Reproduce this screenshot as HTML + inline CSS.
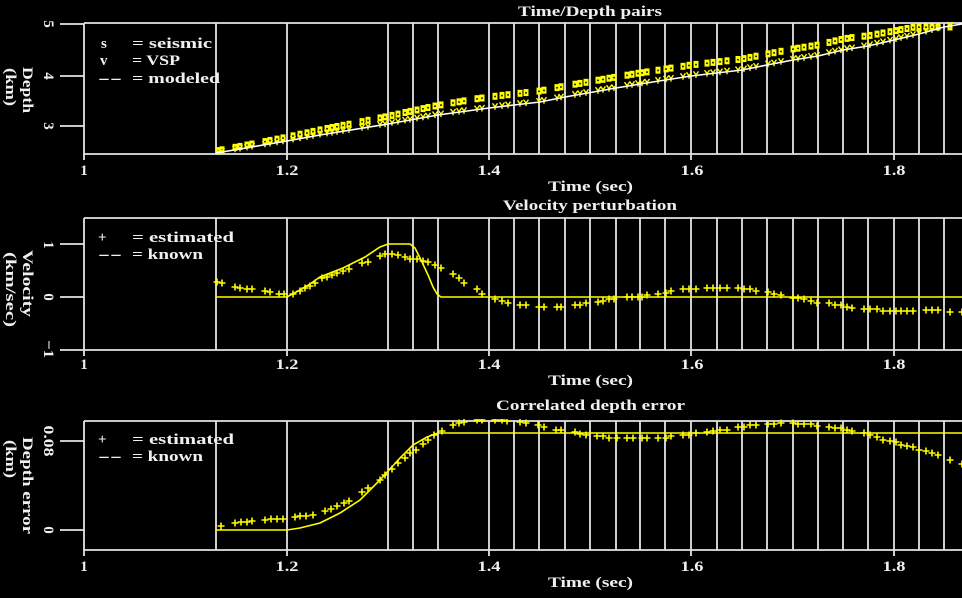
<!DOCTYPE html>
<html><head><meta charset="utf-8"><style>
html,body{margin:0;padding:0;background:#000;}
svg{display:block;}
text{font-family:"Liberation Serif",serif;fill:#f0f0f0;font-size:15px;font-weight:bold;}
.t{font-size:15px;}
</style></head><body>
<svg width="962" height="598" viewBox="0 0 962 598" xmlns="http://www.w3.org/2000/svg">
<defs>
<path id="p" d="M-3.5 0h7M0 -3.5v7" stroke="#ff0" stroke-width="1.6" fill="none"/>
<g id="s"><rect x="-2.5" y="-3.5" width="5" height="7" fill="#ff0"/><rect x="-0.8" y="-0.6" width="1.6" height="1.6" fill="#000"/></g>
<path id="v" d="M-2.5 -3L0 0.5L2.5 -3M0 0.5v3" stroke="#ff0" stroke-width="1.4" fill="none"/>
<clipPath id="c1"><rect x="84" y="21" width="880" height="134"/></clipPath>
<clipPath id="c3"><rect x="84" y="419" width="880" height="132"/></clipPath>
</defs>
<rect width="962" height="598" fill="#000"/>

<!-- ============ PANEL 1 ============ -->
<g stroke="#e4e4e4" stroke-width="1.8" fill="none">
<path d="M84 23H962M84 154H962M84 23V160M60 24H84M60 76H84M60 126H84M287 154v6M489 154v6M691 154v6M894 154v6"/>
<path d="M216 23V154M287 23V154M388 23V154M413 23V154M438 23V154M489 23V154M514 23V154M539 23V154M565 23V154M590 23V154M616 23V154M640 23V154M665 23V154M691 23V154M717 23V154M742 23V154M767 23V154M793 23V154M818 23V154M843 23V154M868 23V154M894 23V154M919 23V154M944 23V154"/>
</g>
<text x="518" y="16" textLength="144" lengthAdjust="spacingAndGlyphs">Time/Depth pairs</text>
<text x="101" y="48">s</text>
<text x="132" y="48" textLength="80" lengthAdjust="spacingAndGlyphs">= seismic</text>
<text x="100" y="65">v</text>
<text x="132" y="65" textLength="48" lengthAdjust="spacingAndGlyphs">= VSP</text>
<text x="98" y="83" textLength="24" lengthAdjust="spacingAndGlyphs">--</text>
<text x="132" y="83" textLength="88" lengthAdjust="spacingAndGlyphs">= modeled</text>
<g class="t" text-anchor="middle">
<text class="t" x="84" y="175">1</text>
<text class="t" x="287" y="175" textLength="23" lengthAdjust="spacingAndGlyphs">1.2</text>
<text class="t" x="489" y="175" textLength="23" lengthAdjust="spacingAndGlyphs">1.4</text>
<text class="t" x="692" y="175" textLength="23" lengthAdjust="spacingAndGlyphs">1.6</text>
<text class="t" x="894" y="175" textLength="23" lengthAdjust="spacingAndGlyphs">1.8</text>
</g>
<text x="548" y="191" textLength="85" lengthAdjust="spacingAndGlyphs">Time (sec)</text>
<text class="t" transform="translate(44,24) rotate(90)" text-anchor="middle">5</text>
<text class="t" transform="translate(44,76) rotate(90)" text-anchor="middle">4</text>
<text class="t" transform="translate(44,126) rotate(90)" text-anchor="middle">3</text>
<text transform="translate(23,67) rotate(90)" textLength="46" lengthAdjust="spacingAndGlyphs">Depth</text>
<text transform="translate(6,68) rotate(90)" textLength="38" lengthAdjust="spacingAndGlyphs">(km)</text>

<g clip-path="url(#c1)">
<g>
<use href="#s" x="218" y="150.6"/><use href="#s" x="222" y="149.8"/><use href="#s" x="235" y="147.3"/><use href="#s" x="240" y="146.4"/><use href="#s" x="247" y="145"/><use href="#s" x="252" y="144"/><use href="#s" x="265" y="141.5"/><use href="#s" x="270" y="140.4"/><use href="#s" x="277" y="139.1"/><use href="#s" x="283" y="137.9"/><use href="#s" x="293" y="135.8"/><use href="#s" x="300" y="134.2"/><use href="#s" x="307" y="132.8"/><use href="#s" x="313" y="131.4"/><use href="#s" x="320" y="129.9"/><use href="#s" x="327" y="128.5"/><use href="#s" x="332" y="127.5"/><use href="#s" x="337" y="126.5"/><use href="#s" x="343" y="125.3"/><use href="#s" x="349" y="124.2"/><use href="#s" x="362" y="121.6"/><use href="#s" x="368" y="120.3"/><use href="#s" x="380" y="117.9"/><use href="#s" x="385" y="116.9"/><use href="#s" x="392" y="115.4"/><use href="#s" x="398" y="114.1"/><use href="#s" x="405" y="112.5"/><use href="#s" x="410" y="111.4"/><use href="#s" x="417" y="110"/><use href="#s" x="423" y="108.6"/><use href="#s" x="428" y="107.5"/><use href="#s" x="435" y="106"/><use href="#s" x="441" y="104.9"/><use href="#s" x="453" y="102.8"/><use href="#s" x="459" y="101.8"/><use href="#s" x="464" y="100.9"/><use href="#s" x="477" y="98.7"/><use href="#s" x="482" y="98"/><use href="#s" x="495" y="96.3"/><use href="#s" x="502" y="95.4"/><use href="#s" x="508" y="94.7"/><use href="#s" x="520" y="93.3"/><use href="#s" x="526" y="92.6"/><use href="#s" x="539" y="91.1"/><use href="#s" x="544" y="90.2"/><use href="#s" x="557" y="87.6"/><use href="#s" x="561" y="86.8"/><use href="#s" x="575" y="84.2"/><use href="#s" x="580" y="83.4"/><use href="#s" x="586" y="82.3"/><use href="#s" x="598" y="80.2"/><use href="#s" x="603" y="79.3"/><use href="#s" x="609" y="78.2"/><use href="#s" x="614" y="77.4"/><use href="#s" x="627" y="75.2"/><use href="#s" x="632" y="74.3"/><use href="#s" x="638" y="73.3"/><use href="#s" x="642" y="72.7"/><use href="#s" x="647" y="71.9"/><use href="#s" x="658" y="70.2"/><use href="#s" x="666" y="68.9"/><use href="#s" x="671" y="68.1"/><use href="#s" x="683" y="66.3"/><use href="#s" x="689" y="65.3"/><use href="#s" x="696" y="64.4"/><use href="#s" x="707" y="63.1"/><use href="#s" x="713" y="62.4"/><use href="#s" x="720" y="61.6"/><use href="#s" x="727" y="60.8"/><use href="#s" x="738" y="59.5"/><use href="#s" x="744" y="58.6"/><use href="#s" x="750" y="57.4"/><use href="#s" x="756" y="56.2"/><use href="#s" x="768" y="53.8"/><use href="#s" x="774" y="52.7"/><use href="#s" x="781" y="51.3"/><use href="#s" x="793" y="49"/><use href="#s" x="798" y="48.2"/><use href="#s" x="804" y="47.2"/><use href="#s" x="811" y="46.1"/><use href="#s" x="817" y="45.2"/><use href="#s" x="829" y="42.4"/><use href="#s" x="835" y="40.9"/><use href="#s" x="841" y="39.5"/><use href="#s" x="847" y="38.4"/><use href="#s" x="852" y="37.6"/><use href="#s" x="864" y="36.2"/><use href="#s" x="870" y="35.4"/><use href="#s" x="877" y="34.1"/><use href="#s" x="883" y="33"/><use href="#s" x="890" y="31.7"/><use href="#s" x="896" y="30.6"/><use href="#s" x="901" y="29.6"/><use href="#s" x="907" y="28.5"/><use href="#s" x="913" y="27.3"/><use href="#s" x="919" y="27"/><use href="#s" x="926" y="27"/><use href="#s" x="932" y="27"/><use href="#s" x="938" y="27"/><use href="#s" x="950" y="27"/>
</g>
<g>
<use href="#v" x="218" y="151.7"/><use href="#v" x="222" y="151"/><use href="#v" x="235" y="148.8"/><use href="#v" x="240" y="148"/><use href="#v" x="247" y="146.8"/><use href="#v" x="252" y="146"/><use href="#v" x="265" y="143.8"/><use href="#v" x="270" y="142.9"/><use href="#v" x="277" y="141.7"/><use href="#v" x="283" y="140.7"/><use href="#v" x="293" y="138.9"/><use href="#v" x="300" y="137.6"/><use href="#v" x="307" y="136.4"/><use href="#v" x="313" y="135.3"/><use href="#v" x="320" y="134"/><use href="#v" x="327" y="132.9"/><use href="#v" x="332" y="132.1"/><use href="#v" x="337" y="131.3"/><use href="#v" x="343" y="130.3"/><use href="#v" x="349" y="129.4"/><use href="#v" x="362" y="127.3"/><use href="#v" x="368" y="126.3"/><use href="#v" x="380" y="124.3"/><use href="#v" x="385" y="123.5"/><use href="#v" x="392" y="122.3"/><use href="#v" x="398" y="121.2"/><use href="#v" x="405" y="119.9"/><use href="#v" x="410" y="119"/><use href="#v" x="417" y="117.8"/><use href="#v" x="423" y="116.7"/><use href="#v" x="428" y="115.8"/><use href="#v" x="435" y="114.5"/><use href="#v" x="441" y="113.6"/><use href="#v" x="453" y="111.9"/><use href="#v" x="459" y="111.1"/><use href="#v" x="464" y="110.4"/><use href="#v" x="477" y="108.6"/><use href="#v" x="482" y="108"/><use href="#v" x="495" y="106.3"/><use href="#v" x="502" y="105.4"/><use href="#v" x="508" y="104.7"/><use href="#v" x="520" y="103.3"/><use href="#v" x="526" y="102.6"/><use href="#v" x="539" y="101.1"/><use href="#v" x="544" y="100.2"/><use href="#v" x="557" y="97.6"/><use href="#v" x="561" y="96.8"/><use href="#v" x="575" y="94.2"/><use href="#v" x="580" y="93.4"/><use href="#v" x="586" y="92.3"/><use href="#v" x="598" y="90.2"/><use href="#v" x="603" y="89.3"/><use href="#v" x="609" y="88.2"/><use href="#v" x="614" y="87.4"/><use href="#v" x="627" y="85.2"/><use href="#v" x="632" y="84.3"/><use href="#v" x="638" y="83.3"/><use href="#v" x="642" y="82.7"/><use href="#v" x="647" y="81.9"/><use href="#v" x="658" y="80.2"/><use href="#v" x="666" y="78.9"/><use href="#v" x="671" y="78.1"/><use href="#v" x="683" y="76.3"/><use href="#v" x="689" y="75.3"/><use href="#v" x="696" y="74.4"/><use href="#v" x="707" y="73.1"/><use href="#v" x="713" y="72.4"/><use href="#v" x="720" y="71.6"/><use href="#v" x="727" y="70.8"/><use href="#v" x="738" y="69.5"/><use href="#v" x="744" y="68.6"/><use href="#v" x="750" y="67.4"/><use href="#v" x="756" y="66.2"/><use href="#v" x="768" y="63.8"/><use href="#v" x="774" y="62.7"/><use href="#v" x="781" y="61.3"/><use href="#v" x="793" y="59"/><use href="#v" x="798" y="58.2"/><use href="#v" x="804" y="57.2"/><use href="#v" x="811" y="56.1"/><use href="#v" x="817" y="55.2"/><use href="#v" x="829" y="52.4"/><use href="#v" x="835" y="50.9"/><use href="#v" x="841" y="49.5"/><use href="#v" x="847" y="48.4"/><use href="#v" x="852" y="47.6"/><use href="#v" x="864" y="45.6"/><use href="#v" x="870" y="44.5"/><use href="#v" x="877" y="42.9"/><use href="#v" x="883" y="41.5"/><use href="#v" x="890" y="39.9"/><use href="#v" x="896" y="38.5"/><use href="#v" x="901" y="37.3"/><use href="#v" x="907" y="35.9"/><use href="#v" x="913" y="34.4"/><use href="#v" x="919" y="33"/><use href="#v" x="926" y="31"/><use href="#v" x="932" y="29.4"/><use href="#v" x="938" y="27.7"/><use href="#v" x="950" y="25"/>
</g>
<polyline fill="none" stroke="#fff" stroke-width="1.6" points="216,153 240,149 287,141 320,135 388,124 438,115 489,108 514,105 540,102 565,97 616,88 640,84 691,76 742,70 767,65 793,60 818,56 843,50 868,46 894,40 919,34 944,27 962,24"/>
</g>

<!-- ============ PANEL 2 ============ -->
<g stroke="#e4e4e4" stroke-width="1.8" fill="none">
<path d="M84 218H962M84 350H962M84 218V356M60 244H84M60 297H84M60 350H84M287 350v6M489 350v6M691 350v6M894 350v6"/>
<path d="M216 218V350M287 218V350M388 218V350M413 218V350M438 218V350M489 218V350M514 218V350M539 218V350M565 218V350M590 218V350M616 218V350M640 218V350M665 218V350M691 218V350M717 218V350M742 218V350M767 218V350M793 218V350M818 218V350M843 218V350M868 218V350M894 218V350M919 218V350M944 218V350"/>
</g>
<text x="503" y="210" textLength="174" lengthAdjust="spacingAndGlyphs">Velocity perturbation</text>
<text x="98" y="242">+</text>
<text x="132" y="242" textLength="102" lengthAdjust="spacingAndGlyphs">= estimated</text>
<text x="98" y="259" textLength="24" lengthAdjust="spacingAndGlyphs">--</text>
<text x="132" y="259" textLength="71" lengthAdjust="spacingAndGlyphs">= known</text>
<g text-anchor="middle">
<text class="t" x="84" y="369">1</text>
<text class="t" x="287" y="369" textLength="23" lengthAdjust="spacingAndGlyphs">1.2</text>
<text class="t" x="489" y="369" textLength="23" lengthAdjust="spacingAndGlyphs">1.4</text>
<text class="t" x="692" y="369" textLength="23" lengthAdjust="spacingAndGlyphs">1.6</text>
<text class="t" x="894" y="369" textLength="23" lengthAdjust="spacingAndGlyphs">1.8</text>
</g>
<text x="548" y="385" textLength="85" lengthAdjust="spacingAndGlyphs">Time (sec)</text>
<text class="t" transform="translate(44,245) rotate(90)" text-anchor="middle">1</text>
<text class="t" transform="translate(44,297) rotate(90)" text-anchor="middle">0</text>
<text class="t" transform="translate(44,349) rotate(90)" text-anchor="middle" textLength="18" lengthAdjust="spacingAndGlyphs">−1</text>
<text transform="translate(23,250) rotate(90)" textLength="67" lengthAdjust="spacingAndGlyphs">Velocity</text>
<text transform="translate(6,252) rotate(90)" textLength="75" lengthAdjust="spacingAndGlyphs">(km/sec)</text>

<polyline fill="none" stroke="#ff0" stroke-width="1.6" points="216,297 287,297 300,290 310,284 320,277 343,268 365,257 380,247 388,244 410,244 415,248 422,262 428,275 433,287 437,294 441,297 962,297"/>
<g>
<use href="#p" x="217" y="282"/><use href="#p" x="222" y="283"/><use href="#p" x="235" y="287"/><use href="#p" x="240" y="288"/><use href="#p" x="247" y="289"/><use href="#p" x="252" y="289"/><use href="#p" x="265" y="291"/><use href="#p" x="270" y="292"/><use href="#p" x="279" y="294"/><use href="#p" x="284" y="294"/><use href="#p" x="293" y="294"/><use href="#p" x="300" y="291"/><use href="#p" x="305" y="288"/><use href="#p" x="310" y="286"/><use href="#p" x="315" y="283"/><use href="#p" x="322" y="278"/><use href="#p" x="327" y="277"/><use href="#p" x="332" y="275"/><use href="#p" x="337" y="273"/><use href="#p" x="343" y="271"/><use href="#p" x="349" y="269"/><use href="#p" x="362" y="263"/><use href="#p" x="368" y="262"/><use href="#p" x="380" y="256"/><use href="#p" x="385" y="254"/><use href="#p" x="392" y="254"/><use href="#p" x="398" y="255"/><use href="#p" x="405" y="257"/><use href="#p" x="410" y="259"/><use href="#p" x="417" y="259"/><use href="#p" x="423" y="261"/><use href="#p" x="428" y="262"/><use href="#p" x="435" y="265"/><use href="#p" x="441" y="268"/><use href="#p" x="453" y="274"/><use href="#p" x="459" y="278"/><use href="#p" x="464" y="283"/><use href="#p" x="477" y="289"/><use href="#p" x="482" y="294"/><use href="#p" x="495" y="299"/><use href="#p" x="502" y="301"/><use href="#p" x="508" y="303"/><use href="#p" x="520" y="305"/><use href="#p" x="526" y="305"/><use href="#p" x="539" y="307"/><use href="#p" x="544" y="307"/><use href="#p" x="557" y="307"/><use href="#p" x="561" y="307"/><use href="#p" x="575" y="305"/><use href="#p" x="580" y="305"/><use href="#p" x="586" y="303"/><use href="#p" x="598" y="302"/><use href="#p" x="603" y="301"/><use href="#p" x="609" y="299"/><use href="#p" x="614" y="299"/><use href="#p" x="627" y="297"/><use href="#p" x="632" y="297"/><use href="#p" x="638" y="297"/><use href="#p" x="642" y="297"/><use href="#p" x="647" y="295"/><use href="#p" x="658" y="294"/><use href="#p" x="666" y="293"/><use href="#p" x="671" y="291"/><use href="#p" x="683" y="289"/><use href="#p" x="689" y="289"/><use href="#p" x="696" y="289"/><use href="#p" x="707" y="288"/><use href="#p" x="713" y="288"/><use href="#p" x="720" y="288"/><use href="#p" x="727" y="288"/><use href="#p" x="738" y="288"/><use href="#p" x="744" y="289"/><use href="#p" x="750" y="289"/><use href="#p" x="756" y="291"/><use href="#p" x="768" y="292"/><use href="#p" x="774" y="294"/><use href="#p" x="781" y="295"/><use href="#p" x="793" y="298"/><use href="#p" x="798" y="298"/><use href="#p" x="804" y="299"/><use href="#p" x="811" y="301"/><use href="#p" x="817" y="303"/><use href="#p" x="829" y="303"/><use href="#p" x="835" y="305"/><use href="#p" x="841" y="305"/><use href="#p" x="847" y="307"/><use href="#p" x="852" y="308"/><use href="#p" x="864" y="309"/><use href="#p" x="870" y="309"/><use href="#p" x="877" y="309"/><use href="#p" x="883" y="311"/><use href="#p" x="890" y="311"/><use href="#p" x="896" y="311"/><use href="#p" x="901" y="311"/><use href="#p" x="907" y="311"/><use href="#p" x="913" y="311"/><use href="#p" x="926" y="310"/><use href="#p" x="932" y="310"/><use href="#p" x="938" y="310"/><use href="#p" x="950" y="312"/><use href="#p" x="962" y="312"/>
</g>

<!-- ============ PANEL 3 ============ -->
<g stroke="#e4e4e4" stroke-width="1.8" fill="none">
<path d="M84 421H962M84 550H962M84 421V556M60 441H84M60 530H84M287 550v6M489 550v6M691 550v6M894 550v6"/>
<path d="M216 421V550M287 421V550M388 421V550M413 421V550M438 421V550M489 421V550M514 421V550M539 421V550M565 421V550M590 421V550M616 421V550M640 421V550M665 421V550M691 421V550M717 421V550M742 421V550M767 421V550M793 421V550M818 421V550M843 421V550M868 421V550M894 421V550M919 421V550M944 421V550"/>
</g>
<text x="496" y="410" textLength="189" lengthAdjust="spacingAndGlyphs">Correlated depth error</text>
<text x="98" y="444">+</text>
<text x="132" y="444" textLength="102" lengthAdjust="spacingAndGlyphs">= estimated</text>
<text x="98" y="461" textLength="24" lengthAdjust="spacingAndGlyphs">--</text>
<text x="132" y="461" textLength="71" lengthAdjust="spacingAndGlyphs">= known</text>
<g text-anchor="middle">
<text class="t" x="84" y="571">1</text>
<text class="t" x="287" y="571" textLength="23" lengthAdjust="spacingAndGlyphs">1.2</text>
<text class="t" x="489" y="571" textLength="23" lengthAdjust="spacingAndGlyphs">1.4</text>
<text class="t" x="692" y="571" textLength="23" lengthAdjust="spacingAndGlyphs">1.6</text>
<text class="t" x="894" y="571" textLength="23" lengthAdjust="spacingAndGlyphs">1.8</text>
</g>
<text x="548" y="587" textLength="85" lengthAdjust="spacingAndGlyphs">Time (sec)</text>
<text class="t" transform="translate(44,441) rotate(90)" text-anchor="middle" textLength="31" lengthAdjust="spacingAndGlyphs">0.08</text>
<text class="t" transform="translate(44,530) rotate(90)" text-anchor="middle">0</text>
<text transform="translate(23,437) rotate(90)" textLength="97" lengthAdjust="spacingAndGlyphs">Depth error</text>
<text transform="translate(6,440) rotate(90)" textLength="38" lengthAdjust="spacingAndGlyphs">(km)</text>

<g clip-path="url(#c3)">
<polyline fill="none" stroke="#ff0" stroke-width="1.6" points="216,530 287,530 300,528 320,523 340,513 360,500 380,480 400,458 413,445 427,437 438,433 962,433"/>
<use href="#p" x="221" y="526"/><use href="#p" x="235" y="523"/><use href="#p" x="241" y="522"/><use href="#p" x="247" y="522"/><use href="#p" x="252" y="521"/><use href="#p" x="265" y="520"/><use href="#p" x="271" y="519"/><use href="#p" x="277" y="519"/><use href="#p" x="283" y="519"/><use href="#p" x="295" y="517"/><use href="#p" x="300" y="516"/><use href="#p" x="306" y="516"/><use href="#p" x="313" y="515"/><use href="#p" x="325" y="511"/><use href="#p" x="331" y="509"/><use href="#p" x="337" y="506"/><use href="#p" x="344" y="503"/><use href="#p" x="349" y="501"/><use href="#p" x="362" y="492"/><use href="#p" x="368" y="488"/><use href="#p" x="380" y="480"/><use href="#p" x="385" y="475"/><use href="#p" x="392" y="469"/><use href="#p" x="398" y="463"/><use href="#p" x="405" y="458"/><use href="#p" x="410" y="453"/><use href="#p" x="416" y="450"/><use href="#p" x="423" y="444"/><use href="#p" x="428" y="440"/><use href="#p" x="434" y="435"/><use href="#p" x="442" y="431"/><use href="#p" x="453" y="425"/><use href="#p" x="459" y="423"/><use href="#p" x="464" y="422"/><use href="#p" x="477" y="420"/><use href="#p" x="482" y="420"/><use href="#p" x="495" y="420"/><use href="#p" x="502" y="420"/><use href="#p" x="507" y="421"/><use href="#p" x="520" y="422"/><use href="#p" x="526" y="423"/><use href="#p" x="538" y="425"/><use href="#p" x="544" y="427"/><use href="#p" x="556" y="430"/><use href="#p" x="561" y="430"/><use href="#p" x="575" y="432"/><use href="#p" x="580" y="434"/><use href="#p" x="586" y="435"/><use href="#p" x="597" y="436"/><use href="#p" x="603" y="436"/><use href="#p" x="609" y="438"/><use href="#p" x="617" y="438"/><use href="#p" x="627" y="438"/><use href="#p" x="633" y="438"/><use href="#p" x="642" y="438"/><use href="#p" x="647" y="438"/><use href="#p" x="658" y="438"/><use href="#p" x="666" y="438"/><use href="#p" x="671" y="436"/><use href="#p" x="683" y="435"/><use href="#p" x="689" y="435"/><use href="#p" x="696" y="433"/><use href="#p" x="707" y="432"/><use href="#p" x="713" y="431"/><use href="#p" x="720" y="430"/><use href="#p" x="727" y="430"/><use href="#p" x="738" y="427"/><use href="#p" x="744" y="427"/><use href="#p" x="750" y="425"/><use href="#p" x="756" y="425"/><use href="#p" x="768" y="424"/><use href="#p" x="774" y="424"/><use href="#p" x="781" y="423"/><use href="#p" x="793" y="423"/><use href="#p" x="798" y="424"/><use href="#p" x="804" y="424"/><use href="#p" x="811" y="424"/><use href="#p" x="817" y="426"/><use href="#p" x="829" y="427"/><use href="#p" x="835" y="428"/><use href="#p" x="841" y="428"/><use href="#p" x="847" y="430"/><use href="#p" x="852" y="431"/><use href="#p" x="864" y="433"/><use href="#p" x="870" y="435"/><use href="#p" x="877" y="437"/><use href="#p" x="883" y="440"/><use href="#p" x="890" y="441"/><use href="#p" x="896" y="442"/><use href="#p" x="901" y="445"/><use href="#p" x="907" y="446"/><use href="#p" x="913" y="447"/><use href="#p" x="919" y="450"/><use href="#p" x="926" y="451"/><use href="#p" x="932" y="453"/><use href="#p" x="938" y="455"/><use href="#p" x="950" y="460"/><use href="#p" x="962" y="464"/>
</g>
</svg>
</body></html>
